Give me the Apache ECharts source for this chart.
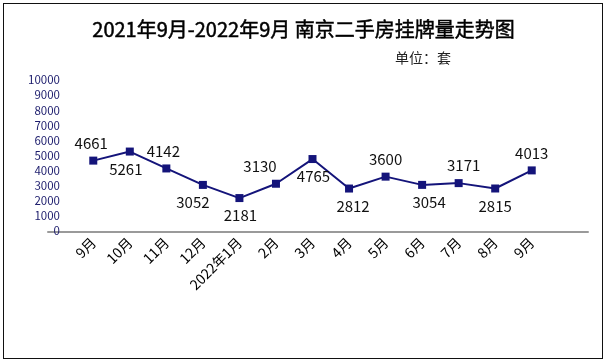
<!DOCTYPE html>
<html>
<head>
<meta charset="utf-8">
<script src="https://cdn.jsdelivr.net/npm/echarts@6/dist/echarts.min.js"></script>
<style>
html,body{margin:0;padding:0;background:#fff;}
#wrap{position:relative;width:607px;height:364px;}
#chart{position:absolute;left:0;top:0;width:607px;height:364px;}
#frame{position:absolute;left:3px;top:3px;width:598px;height:354px;border:1.5px solid #111;pointer-events:none;}
</style>
</head>
<body>
<div id="wrap"><div id="chart"></div><div id="frame"></div></div>
<script>
const categories = ['9月','10月','11月','12月','2022年1月','2月','3月','4月','5月','6月','7月','8月','9月'];
const listings = [4661, 5261, 4142, 3052, 2181, 3130, 4765, 2812, 3600, 3054, 3171, 2815, 4013];
const yTicks = {min: 0, max: 10000, interval: 1000};

const placement = ['top','bottom','top','bottom','bottom','top','bottom','bottom','top','bottom','top','bottom','top'];
const shifts = [[-2,0],[-4,0],[-3,0],[-10,0],[1,0],[-16,0],[1,0],[4,0],[0,0],[7,0],[5,0],[0,0],[0,0]];

const font = '"Noto Sans CJK SC", "Liberation Sans", sans-serif';
const chart = echarts.init(document.getElementById('chart'));
chart.setOption({
  animation: false,
  title: [
    {text: '2021年9月-2022年9月 南京二手房挂牌量走势图', left: 'center', top: 14,
     textStyle: {fontFamily: font, fontSize: 20, fontWeight: 'normal', color: '#000',
                 textBorderColor: '#000', textBorderWidth: 0.5}},
    {text: '单位：套', left: 390, top: 46,
     textStyle: {fontFamily: font, fontSize: 14, fontWeight: 'normal', color: '#222'}}
  ],
  grid: [
    {left: 75, right: 57, top: 80, bottom: 133},
    {left: 48, right: 19, top: 80, bottom: 132}
  ],
  xAxis: [
    {type: 'category', gridIndex: 0, data: categories, boundaryGap: true,
     axisLine: {show: false}, axisTick: {show: false},
     axisLabel: {rotate: 45, margin: 9, fontSize: 14, color: '#000', fontFamily: font, interval: 0}},
    {type: 'value', gridIndex: 1, min: 0, max: 1,
     axisLine: {show: true, lineStyle: {color: '#9a9a9a', width: 2}},
     axisTick: {show: false}, axisLabel: {show: false}, splitLine: {show: false}}
  ],
  yAxis: [
    {type: 'value', gridIndex: 0, min: yTicks.min, max: yTicks.max, interval: yTicks.interval,
     axisLine: {show: false}, axisTick: {show: false}, splitLine: {show: false},
     axisLabel: {margin: 15, fontSize: 11.5, color: '#1c1c6c', fontFamily: font, formatter: v => String(v)}},
    {type: 'value', gridIndex: 1, show: false, min: 0, max: 1}
  ],
  series: [{
    type: 'line',
    xAxisIndex: 0, yAxisIndex: 0,
    data: listings.map((v, i) => ({
      value: v,
      label: {position: placement[i], offset: shifts[i]}
    })),
    symbol: 'rect', symbolSize: 8,
    lineStyle: {color: '#14147a', width: 2},
    itemStyle: {color: '#14147a'},
    label: {show: true, fontSize: 15, color: '#111', fontFamily: font, distance: 6}
  }]
});
</script>
</body>
</html>
